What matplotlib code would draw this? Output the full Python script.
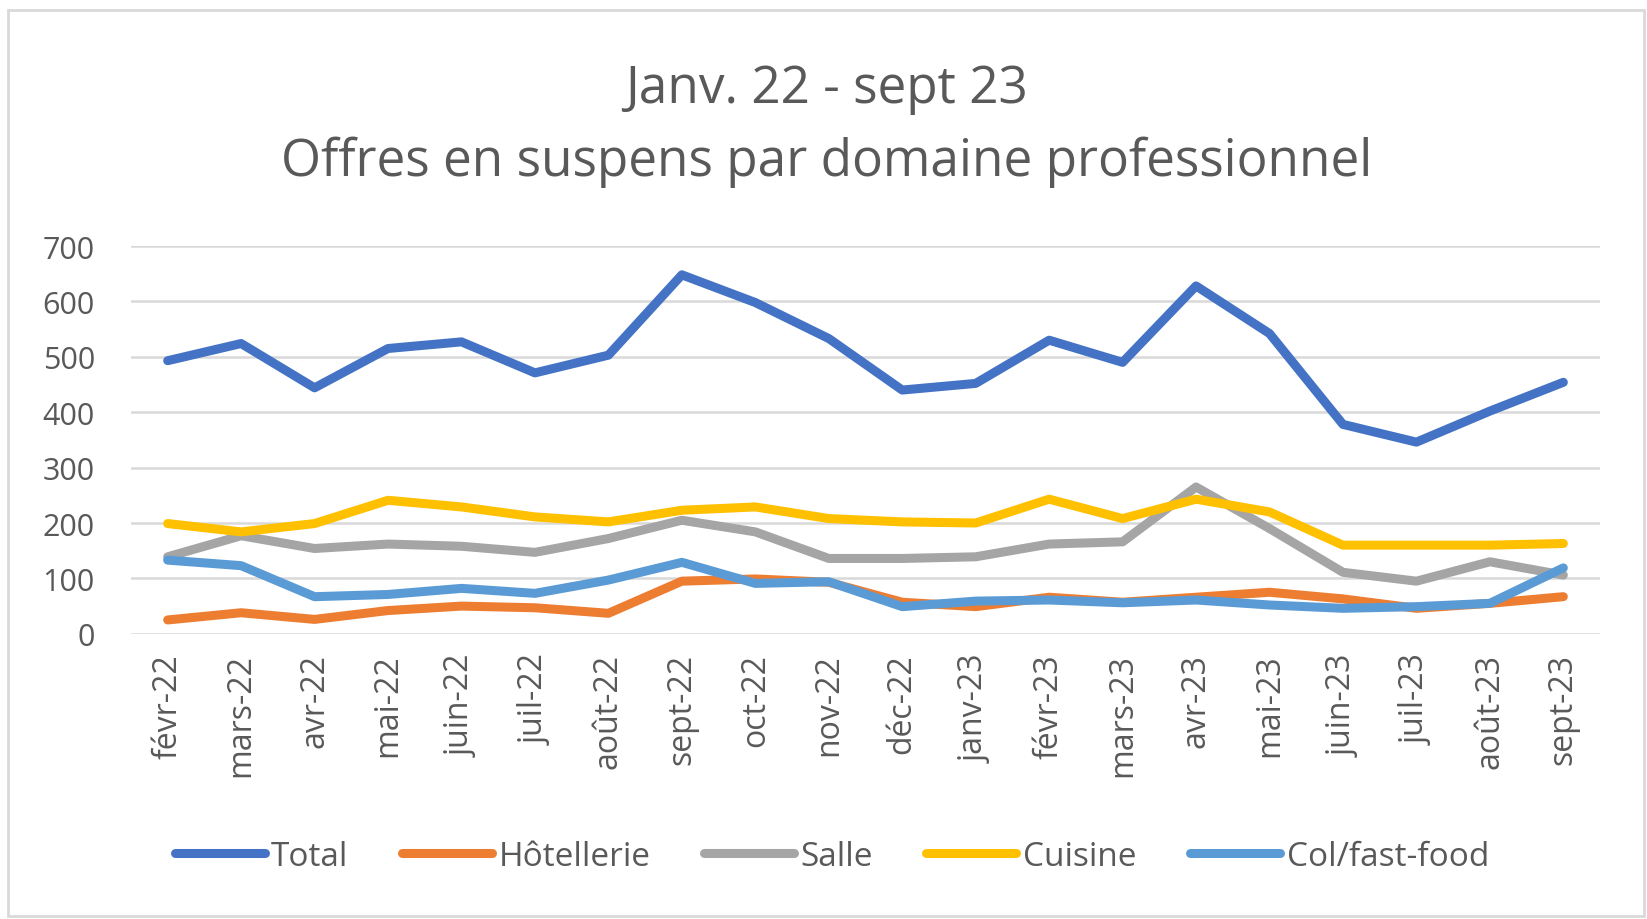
import matplotlib
matplotlib.use("Agg")
import matplotlib.pyplot as plt
from matplotlib.patches import Rectangle

plt.rcParams["font.family"] = ["Open Sans", "DejaVu Sans"]

# --- données ---
mois = ["févr-22", "mars-22", "avr-22", "mai-22", "juin-22", "juil-22",
        "août-22", "sept-22", "oct-22", "nov-22", "déc-22", "janv-23",
        "févr-23", "mars-23", "avr-23", "mai-23", "juin-23", "juil-23",
        "août-23", "sept-23"]
total = [493, 524, 444, 515, 527, 471, 503, 648, 598, 533, 440, 452,
         530, 490, 628, 542, 378, 346, 402, 454]
hotellerie = [25, 38, 26, 42, 50, 47, 37, 95, 99, 93, 57, 49,
              66, 57, 66, 75, 63, 46, 55, 67]
salle = [139, 177, 154, 162, 158, 147, 172, 205, 184, 136, 136, 139,
         162, 166, 265, 190, 111, 95, 130, 106]
cuisine = [199, 184, 199, 241, 229, 211, 202, 223, 229, 208, 202, 200,
           243, 208, 243, 220, 160, 160, 160, 163]
col_fast_food = [133, 123, 67, 71, 82, 73, 97, 129, 91, 94, 49, 59,
                 61, 56, 61, 52, 46, 49, 55, 119]

series = [
    ("Total", total, "#4472C4"),
    ("Hôtellerie", hotellerie, "#ED7D31"),
    ("Salle", salle, "#A5A5A5"),
    ("Cuisine", cuisine, "#FFC000"),
    ("Col/fast-food", col_fast_food, "#5B9BD5"),
]

fig = plt.figure(figsize=(16.47, 9.2), dpi=100)
ax = fig.add_axes([0.0795, 0.31, 0.892, 0.4215])

x = range(len(mois))
for nom, vals, couleur in series:
    ax.plot(x, vals, color=couleur, linewidth=6.5, label=nom,
            solid_capstyle="round", solid_joinstyle="round")

ax.set_xlim(-0.5, len(mois) - 0.5)
ax.set_ylim(0, 700)
ax.set_yticks(range(0, 701, 100))
ax.set_xticks(list(x))
ax.set_xticklabels(mois, rotation=90, fontsize=23, color="#595959")
ax.tick_params(axis="y", labelsize=22, labelcolor="#595959", length=0, pad=26)
ax.tick_params(axis="x", length=0, pad=14)
ax.grid(axis="y", color="#D9D9D9", linewidth=1.8)
ax.set_axisbelow(True)
for s in ax.spines.values():
    s.set_visible(False)

fig.text(0.502, 0.903, "Janv. 22 - sept 23", ha="center", va="center",
         fontsize=37, color="#595959")
fig.text(0.502, 0.824, "Offres en suspens par domaine professionnel",
         ha="center", va="center", fontsize=37, color="#595959")

leg = fig.legend(loc="center", bbox_to_anchor=(0.505, 0.068), ncol=5,
                 frameon=False, fontsize=24, handlelength=2.7,
                 handletextpad=0.2, columnspacing=1.6)
for t in leg.get_texts():
    t.set_color("#595959")

fig.patches.append(Rectangle((0.005, 0.003), 0.993, 0.985, transform=fig.transFigure,
                             fill=False, edgecolor="#D9D9D9", linewidth=2))

fig.savefig("out.png", dpi=100, facecolor="white")
